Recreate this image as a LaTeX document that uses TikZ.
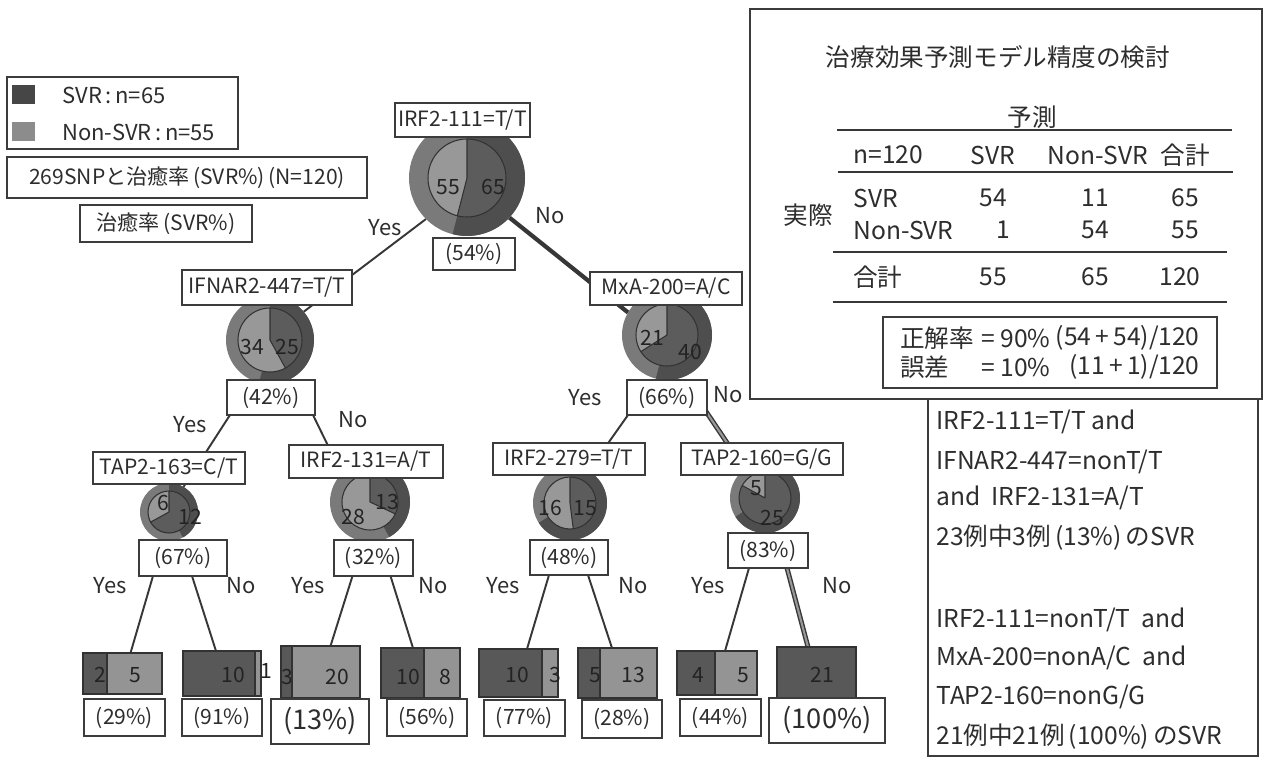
\documentclass[tikz,border=0pt]{standalone}
\usepackage{fontspec}
\setmainfont{Noto Sans CJK JP}
\usetikzlibrary{positioning, calc, backgrounds}
\definecolor{txt}{RGB}{45,45,45}
\definecolor{numtxt}{RGB}{35,35,35}
\definecolor{boxline}{RGB}{60,60,60}
\definecolor{lineclr}{RGB}{55,55,55}
\definecolor{pieedge}{RGB}{50,50,50}
\definecolor{svrout}{RGB}{78,78,78}
\definecolor{nsvrout}{RGB}{122,122,122}
\definecolor{svrin}{RGB}{92,92,92}
\definecolor{nsvrin}{RGB}{152,152,152}
\definecolor{svrbar}{RGB}{88,88,88}
\definecolor{nsvrbar}{RGB}{148,148,148}
\definecolor{legsvr}{RGB}{70,70,70}
\definecolor{legnsvr}{RGB}{140,140,140}
\newcommand{\px}{0.02cm}
\tikzset{
  lab/.style={rectangle, draw=boxline, fill=white, line width=0.9pt,
    inner sep=0pt, outer sep=0pt, font=\fontsize{12}{14}\selectfont, text=txt},
  biglab/.style={lab, font=\fontsize{15.5}{18}\selectfont},
  yn/.style={inner sep=0pt, font=\fontsize{12.5}{14}\selectfont, text=txt},
  num/.style={inner sep=0pt, font=\fontsize{12}{14}\selectfont, text=numtxt},
  tbl/.style={inner sep=0pt, font=\fontsize{14}{16}\selectfont, text=txt},
  piebase/.style={circle, inner sep=0pt, outer sep=0pt},
  bar/.style={rectangle, fill=nsvrbar, inner sep=0pt, outer sep=0pt},
  barline/.style={draw=pieedge, line width=0.7pt},
  pieline/.style={draw=pieedge, line width=0.6pt},
  conn/.style={draw=lineclr, line width=1.1pt},
  connbold/.style={draw=lineclr, line width=2.4pt},
  conndbl/.style={draw=lineclr, line width=0.8pt, double=nsvrin, double distance=1.2pt},
  rule/.style={draw=lineclr, line width=1.1pt}
}
% donut: name, centre, outer r, inner r, outer SVR share, inner SVR share
\newcommand{\donut}[6]{%
  \node[piebase, minimum size=2*#3*\px] (#1) at #2 {};
  \fill[nsvrout] (#1.center) circle (#3);
  \fill[svrout] (#1.center) -- ++(90:#3) arc[start angle=90, delta angle=-360*#5, radius=#3] -- cycle;
  \fill[nsvrin] (#1.center) circle (#4);
  \fill[svrin] (#1.center) -- ++(90:#4) arc[start angle=90, delta angle=-360*#6, radius=#4] -- cycle;
  \draw[pieline] (#1.center) circle (#4);
  \draw[pieline] (#1.center) -- ++(90:#4) (#1.center) -- ++({90-360*#6}:#4);
}
% leaf bar: name, centre, width, height, SVR width
\newcommand{\leafbar}[5]{%
  \node[bar, minimum width=#3*\px, minimum height=#4*\px] (#1) at #2 {};
  \fill[svrbar] (#1.north west) rectangle ++(#5,-#4);
  \draw[barline] (#1.north west) rectangle (#1.south east)
    ($(#1.north west)+(#5,0)$) -- ++(0,-#4);
}

\begin{document}
\begin{tikzpicture}[x=0.02cm, y=0.02cm]
  \begin{scope}[on background layer]
    \fill[white] (0,0) rectangle (1265,-758);
  \end{scope}
  \useasboundingbox (0,0) rectangle (1265,-758);

  % ── legend ──────────────────────────────────────────────
  \node[lab, minimum width=231*\px, minimum height=72*\px] (legend) at (122.5,-113) {};
  \fill[legsvr] (12,-85) rectangle (35,-104);
  \fill[legnsvr] (12,-122) rectangle (35,-141);
  \node[yn, anchor=west] (legA) at (62,-95) {SVR\,:\,n=65};
  \node[yn, anchor=west] (legB) at (62,-132) {Non-SVR\,:\,n=55};
  \node[lab, minimum width=360*\px, minimum height=41*\px] (title) at (187,-177.5)
    {269SNPと治癒率\,(SVR\%)\,(N=120)};
  \node[lab, minimum width=172*\px, minimum height=37*\px] (rate) at (166,-223.5)
    {治癒率\,(SVR\%)};

  % ── pies ────────────────────────────────────────────────
  \donut{rootpie}{(467,-178)}{58}{39}{0.54}{0.54}
  \donut{ifnarpie}{(270,-340)}{44}{32}{0.54}{0.42}
  \donut{mxapie}{(667,-335)}{45}{31}{0.54}{0.66}
  \donut{tapApie}{(169,-512)}{29}{21}{0.42}{0.67}
  \donut{irfBpie}{(370,-502)}{40}{28}{0.42}{0.32}
  \donut{irfCpie}{(570,-503)}{37}{26}{0.66}{0.48}
  \donut{tapBpie}{(765,-498)}{35}{26}{0.66}{0.83}

  \node[num] (n1) at (448,-187) {55};
  \node[num] (n2) at (493,-187) {65};
  \node[num] (n3) at (252,-347) {34};
  \node[num] (n4) at (287,-347) {25};
  \node[num] (n5) at (652,-338) {21};
  \node[num] (n6) at (690,-352) {40};
  \node[num] (n7) at (163,-503) {6};
  \node[num] (n8) at (190,-517) {12};
  \node[num] (n9) at (353,-517) {28};
  \node[num] (n10) at (387,-502) {13};
  \node[num] (n11) at (550,-508) {16};
  \node[num] (n12) at (585,-508) {15};
  \node[num] (n13) at (756,-488) {5};
  \node[num] (n14) at (772,-518) {25};

  % ── split labels and shares ─────────────────────────────
  \node[lab, minimum width=135*\px, minimum height=34*\px] (rootlab) at (462.5,-120) {IRF2-111=T/T};
  \node[lab, minimum width=82*\px, minimum height=32*\px] (rootpct) at (474,-254) {(54\%)};
  \node[lab, minimum width=170*\px, minimum height=35*\px] (ifnarlab) at (267,-287.5) {IFNAR2-447=T/T};
  \node[lab, minimum width=88*\px, minimum height=35*\px] (ifnarpct) at (271,-397.5) {(42\%)};
  \node[lab, minimum width=152*\px, minimum height=33*\px] (mxalab) at (666,-288.5) {MxA-200=A/C};
  \node[lab, minimum width=80*\px, minimum height=35*\px] (mxapct) at (667,-397.5) {(66\%)};
  \node[lab, minimum width=152*\px, minimum height=32*\px] (tapAlab) at (169,-468) {TAP2-163=C/T};
  \node[lab, minimum width=88*\px, minimum height=36*\px] (tapApct) at (183,-558) {(67\%)};
  \node[lab, minimum width=154*\px, minimum height=33*\px] (irfBlab) at (366,-461.5) {IRF2-131=A/T};
  \node[lab, minimum width=79*\px, minimum height=36*\px] (irfBpct) at (373.5,-558) {(32\%)};
  \node[lab, minimum width=152*\px, minimum height=32*\px] (irfClab) at (569,-459) {IRF2-279=T/T};
  \node[lab, minimum width=78*\px, minimum height=35*\px] (irfCpct) at (569,-557.5) {(48\%)};
  \node[lab, minimum width=162*\px, minimum height=32*\px] (tapBlab) at (762,-459) {TAP2-160=G/G};
  \node[lab, minimum width=80*\px, minimum height=35*\px] (tapBpct) at (768,-550.5) {(83\%)};

  % ── leaves ──────────────────────────────────────────────
  \leafbar{leafA}{(122.5,-673.5)}{79}{41}{24}
  \leafbar{leafB}{(222,-673.5)}{78}{45}{72}
  \leafbar{leafC}{(320.5,-672)}{79}{52}{11}
  \leafbar{leafD}{(420.5,-673)}{79}{50}{43}
  \leafbar{leafE}{(518.5,-673)}{79}{48}{63}
  \leafbar{leafF}{(617.5,-673)}{79}{50}{22}
  \leafbar{leafG}{(717,-673)}{80}{44}{38}
  \leafbar{leafH}{(816.5,-672.5)}{79}{51}{79}

  \node[num] (v1) at (100,-675) {2};
  \node[num] (v2) at (135,-675) {5};
  \node[num] (v3) at (233,-675) {10};
  \node[num] (v4) at (266,-671) {1};
  \node[num] (v5) at (287,-677) {3};
  \node[num] (v6) at (337,-677) {20};
  \node[num] (v7) at (408,-677) {10};
  \node[num] (v8) at (445,-677) {8};
  \node[num] (v9) at (517,-675) {10};
  \node[num] (v10) at (555,-675) {3};
  \node[num] (v11) at (595,-675) {5};
  \node[num] (v12) at (633,-675) {13};
  \node[num] (v13) at (698,-675) {4};
  \node[num] (v14) at (743,-675) {5};
  \node[num] (v15) at (822,-675) {21};

  \node[lab, minimum width=81*\px, minimum height=37*\px] (pctA) at (124.5,-717.5) {(29\%)};
  \node[lab, minimum width=80*\px, minimum height=37*\px] (pctB) at (222,-717.5) {(91\%)};
  \node[biglab, minimum width=98*\px, minimum height=45*\px] (pctC) at (320,-721.5) {(13\%)};
  \node[lab, minimum width=80*\px, minimum height=37*\px] (pctD) at (427,-717.5) {(56\%)};
  \node[lab, minimum width=81*\px, minimum height=36*\px] (pctE) at (524.5,-718) {(77\%)};
  \node[lab, minimum width=80*\px, minimum height=38*\px] (pctF) at (622,-719) {(28\%)};
  \node[lab, minimum width=81*\px, minimum height=37*\px] (pctG) at (720.5,-717.5) {(44\%)};
  \node[biglab, minimum width=116*\px, minimum height=45*\px] (pctH) at (827,-720.5) {(100\%)};

  % ── yes / no ────────────────────────────────────────────
  \node[yn] (y1) at (385,-228) {Yes};
  \node[yn] (o1) at (550,-216) {No};
  \node[yn] (y2) at (190,-425) {Yes};
  \node[yn] (o2) at (353,-420) {No};
  \node[yn] (y3) at (585,-398) {Yes};
  \node[yn] (o3) at (728,-395) {No};
  \node[yn] (y4) at (110,-586) {Yes};
  \node[yn] (o4) at (241,-586) {No};
  \node[yn] (y5) at (308,-586) {Yes};
  \node[yn] (o5) at (433,-586) {No};
  \node[yn] (y6) at (503,-586) {Yes};
  \node[yn] (o6) at (633,-586) {No};
  \node[yn] (y7) at (708,-586) {Yes};
  \node[yn] (o7) at (837,-586) {No};

  % ── connectors (behind boxes) ───────────────────────────
  \begin{scope}[on background layer]
    \draw[conn] (rootpie.225) -- (ifnarpie.40);
    \draw[connbold] (rootpie.-43) -- (mxapie.150);
    \draw[conn] ($(ifnarpct.south)+(-41,0)$) -- (tapApie.60);
    \draw[conn] ($(ifnarpct.south)+(42,0)$) -- (irfBpie.135);
    \draw[conn] ($(mxapct.south)+(-39,0)$) -- (irfCpie.60);
    \draw[conndbl] ($(mxapct.south east)+(-2,5)$) -- (tapBpie.125);
    \draw[conn] ($(tapApct.south)+(-30,0)$) -- ($(leafA.north)+(8,0)$);
    \draw[conn] ($(tapApct.south)+(9,0)$) -- ($(leafB.north)+(-6,0)$);
    \draw[conn] ($(irfBpct.south)+(-21,0)$) -- ($(leafC.north)+(10,0)$);
    \draw[conn] ($(irfBpct.south)+(17,0)$) -- ($(leafD.north)+(-7.5,0)$);
    \draw[conn] ($(irfCpct.south)+(-20,0)$) -- ($(leafE.north)+(8.5,0)$);
    \draw[conn] ($(irfCpct.south)+(19,0)$) -- ($(leafF.north)+(-5.5,0)$);
    \draw[conn] ($(tapBpct.south)+(-19,0)$) -- ($(leafG.north)+(8,0)$);
    \draw[conndbl] ($(tapBpct.south)+(19,0)$) -- ($(leafH.north)+(-8.5,0)$);
  \end{scope}

  % ── accuracy table ──────────────────────────────────────
  \draw[line width=1pt, draw=boxline] (750,-9) rectangle (1262,-399);
  \node[tbl] (tabtitle) at (998,-57) {治療効果予測モデル精度の検討};
  \node[tbl] (pred) at (1032,-117) {予測};
  \draw[rule] (837,-130) -- (1232,-130);
  \node[tbl, anchor=west] (h1) at (853,-155) {n=120};
  \node[tbl] (h2) at (993,-155) {SVR};
  \node[tbl] (h3) at (1098,-155) {Non-SVR};
  \node[tbl] (h4) at (1185,-155) {合計};
  \draw[rule] (838,-172) -- (1233,-172);
  \node[tbl] (act) at (808,-215) {実際};
  \node[tbl, anchor=west] (r1a) at (853,-198) {SVR};
  \node[tbl] (r1b) at (993,-198) {54};
  \node[tbl] (r1c) at (1095,-198) {11};
  \node[tbl] (r1d) at (1185,-198) {65};
  \node[tbl, anchor=west] (r2a) at (853,-230) {Non-SVR};
  \node[tbl] (r2b) at (1003,-230) {1};
  \node[tbl] (r2c) at (1095,-230) {54};
  \node[tbl] (r2d) at (1185,-230) {55};
  \draw[rule] (833,-252) -- (1227,-252);
  \node[tbl, anchor=west] (r3a) at (853,-277) {合計};
  \node[tbl] (r3b) at (993,-277) {55};
  \node[tbl] (r3c) at (1095,-277) {65};
  \node[tbl] (r3d) at (1180,-277) {120};
  \draw[rule, line width=1.6pt] (833,-302) -- (1227,-302);
  \node[lab, line width=1.3pt, minimum width=334*\px, minimum height=71*\px] (accbox) at (1050,-352.5) {};
  \node[tbl, anchor=west] (a1) at (900,-338) {正解率};
  \node[tbl, anchor=west] (a2) at (981,-338) {= 90\%};
  \node[tbl, anchor=east] (a3) at (1200,-338) {(54\,+\,54)/120};
  \node[tbl, anchor=west] (e1) at (900,-367) {誤差};
  \node[tbl, anchor=west] (e2) at (981,-367) {= 10\%};
  \node[tbl, anchor=east] (e3) at (1200,-367) {(11\,+\,1)/120};

  % ── rule summary ────────────────────────────────────────
  \draw[line width=1.6pt, draw=boxline] (928,-399) rectangle (1258,-756);
  \node[tbl, anchor=west] (s1) at (936,-422) {IRF2-111=T/T and};
  \node[tbl, anchor=west] (s2) at (936,-462) {IFNAR2-447=nonT/T};
  \node[tbl, anchor=west] (s3) at (936,-498) {and\ \ IRF2-131=A/T};
  \node[tbl, anchor=west] (s4) at (936,-538) {23例中3例\,(13\%)\,のSVR};
  \node[tbl, anchor=west] (s5) at (936,-620) {IRF2-111=nonT/T\ \ and};
  \node[tbl, anchor=west] (s6) at (936,-658) {MxA-200=nonA/C\ \ and};
  \node[tbl, anchor=west] (s7) at (936,-697) {TAP2-160=nonG/G};
  \node[tbl, anchor=west] (s8) at (936,-737) {21例中21例\,(100\%)\,のSVR};
\end{tikzpicture}
\end{document}
